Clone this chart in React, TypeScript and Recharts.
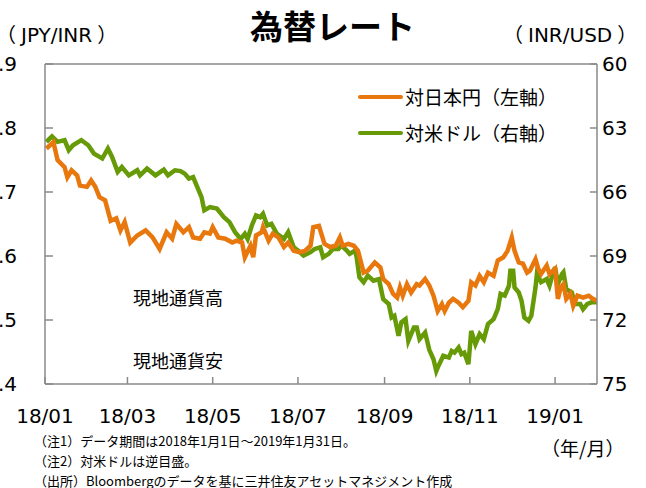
import { LineChart, Line, XAxis, YAxis, ReferenceLine } from 'recharts'

const ORANGE = '#E8780D'
const GREEN = '#669A06'
const AXIS = '#8a8a8a'
const FONT = '"Noto Sans CJK JP", "Noto Sans", sans-serif'
const LATIN = '"DejaVu Sans", "Noto Sans CJK JP", sans-serif'

// x values are days counted from 2018-01-01
const jpyDays = [
  1, 6, 9, 14, 16, 19, 23, 25, 30, 33, 36, 39, 43, 47, 51, 54, 57, 61, 66, 72,
  77, 82, 87, 91, 94, 99, 103, 106, 111, 114, 118, 120, 124, 129, 134, 137, 141, 143, 147, 149,
  151, 155, 156, 160, 163, 167, 171, 174, 178, 182, 186, 190, 192, 196, 200, 204, 208, 211, 213, 217,
  221, 224, 228, 231, 236, 240, 242, 246, 249, 252, 254, 256, 259, 262, 266, 268, 272, 275, 278, 281,
  284, 286, 289, 292, 296, 299, 303, 305, 308, 311, 314, 317, 321, 324, 328, 331, 334, 336, 339, 342,
  345, 347, 351, 353, 355, 359, 361, 365, 367, 369, 371, 373, 376, 378, 381, 385, 389, 392, 395
]
const jpyInr = [
  1.768, 1.778, 1.75, 1.739, 1.723, 1.734, 1.726, 1.71, 1.708, 1.718, 1.708, 1.692, 1.687, 1.655, 1.659, 1.64, 1.653, 1.621, 1.632, 1.64,
  1.629, 1.611, 1.637, 1.627, 1.65, 1.637, 1.645, 1.629, 1.627, 1.637, 1.635, 1.645, 1.629, 1.627, 1.621, 1.624, 1.621, 1.598, 1.616, 1.598,
  1.632, 1.637, 1.645, 1.624, 1.635, 1.629, 1.614, 1.621, 1.608, 1.606, 1.608, 1.616, 1.645, 1.647, 1.619, 1.614, 1.616, 1.629, 1.616, 1.619,
  1.616, 1.608, 1.574, 1.577, 1.59, 1.582, 1.564, 1.556, 1.541, 1.535, 1.551, 1.538, 1.556, 1.543, 1.556, 1.554, 1.564, 1.554, 1.538, 1.514,
  1.525, 1.514, 1.527, 1.533, 1.527, 1.52, 1.53, 1.559, 1.554, 1.569, 1.559, 1.574, 1.569, 1.593, 1.598, 1.608, 1.629, 1.608, 1.59, 1.588,
  1.574, 1.577, 1.595, 1.58, 1.572, 1.585, 1.572, 1.58, 1.533, 1.551, 1.556, 1.533, 1.541, 1.522, 1.538, 1.535, 1.538, 1.533, 1.53
]

const usdDays = [
  1, 5, 9, 14, 17, 20, 26, 31, 35, 41, 45, 48, 52, 55, 60, 66, 68, 73, 79, 85,
  88, 93, 97, 100, 103, 106, 109, 112, 114, 118, 123, 128, 132, 136, 140, 143, 145, 148, 151, 154,
  156, 159, 162, 166, 171, 174, 178, 181, 185, 190, 193, 197, 199, 203, 206, 210, 212, 216, 218, 222,
  223, 225, 228, 231, 235, 239, 242, 246, 248, 250, 253, 255, 258, 260, 264, 266, 268, 272, 275, 278,
  280, 281, 285, 289, 291, 293, 296, 298, 300, 303, 305, 308, 311, 314, 317, 321, 324, 326, 329, 332,
  333, 335, 336, 339, 341, 343, 346, 348, 351, 352, 355, 359, 361, 363, 365, 367, 370, 371, 373, 377,
  379, 383, 385, 388, 391, 395
]
const usdInr = [
  63.65, 63.39, 63.65, 63.57, 64.04, 63.81, 63.57, 63.81, 64.2, 64.43, 63.96, 64.36, 65.06, 64.83, 65.22, 64.98, 65.22, 64.9, 65.22, 64.95,
  65.22, 64.98, 65.02, 65.14, 65.37, 65.3, 65.77, 66.24, 66.86, 66.71, 66.78, 67.18, 67.41, 67.88, 68.2, 67.96, 68.2, 67.57, 67.1, 67.18,
  67.02, 67.57, 67.49, 67.96, 68.2, 67.88, 68.59, 68.74, 68.98, 68.82, 68.67, 68.59, 69.06, 68.9, 68.67, 68.67, 68.51, 68.74, 68.9, 68.74,
  69.06, 70.0, 70.23, 69.92, 70.16, 70.08, 71.02, 71.25, 71.88, 71.8, 72.74, 72.11, 71.96, 72.98, 72.35, 72.35, 72.9, 72.59, 73.4, 73.84,
  74.39, 74.23, 73.68, 73.76, 73.45, 73.53, 73.29, 73.6, 73.53, 74.07, 72.51, 73.13, 72.66, 72.9, 72.19, 71.96, 71.49, 70.78, 70.86, 70.39,
  69.69, 69.69, 70.47, 70.71, 71.1, 71.88, 72.04, 71.8, 70.47, 69.84, 70.23, 70.08, 70.39, 69.92, 69.53, 70.31, 69.84, 69.76, 70.55, 70.71,
  71.25, 71.25, 71.49, 71.25, 71.17, 71.17
]

const xTicks = [0, 59, 120, 181, 243, 304, 365]
const xTickLabels = ['18/01', '18/03', '18/05', '18/07', '18/09', '18/11', '19/01']
const leftTicks = [1.4, 1.5, 1.6, 1.7, 1.8, 1.9]
const rightTicks = [60, 63, 66, 69, 72, 75]

const legendItems = [
  { name: '対日本円（左軸）', color: ORANGE },
  { name: '対米ドル（右軸）', color: GREEN }
]

const notes = [
  '（注1）データ期間は2018年1月1日～2019年1月31日。',
  '（注2）対米ドルは逆目盛。',
  '（出所）Bloombergのデータを基に三井住友アセットマネジメント作成'
]

const jpyData = jpyDays.map((day, i) => ({ day, value: jpyInr[i] }))
const usdData = usdDays.map((day, i) => ({ day, value: usdInr[i] }))

const tickStyle = { fontSize: 20, fill: '#000', fontFamily: LATIN }

function Text({ left, top, size, children, bold, font }: { left: number; top: number; size: number; children: any; bold?: boolean; font?: string }) {
  return (
    <div style={{
      position: 'absolute', left, top, fontSize: size, lineHeight: 1, whiteSpace: 'nowrap',
      fontWeight: bold ? 700 : 400, fontFamily: font ?? FONT, color: '#000'
    }}>
      {children}
    </div>
  )
}

// unit label: brackets in the CJK face, letters in the Latin face
function Unit({ left, top, label }: { left: number; top: number; label: string }) {
  return (
    <Text left={left} top={top} size={20}>
      （<span style={{ fontFamily: LATIN, padding: '0 5px' }}>{label}</span>）
    </Text>
  )
}

export default function App() {
  return (
    <div style={{ position: 'absolute', left: 0, top: 0, width: 646, height: 488, overflow: 'hidden', background: '#fff' }}>
      <LineChart width={646} height={488} data={jpyData} margin={{ top: 64, right: 0, left: 0, bottom: 0 }}>
        <XAxis
          dataKey="day"
          type="number"
          domain={[0, 395]}
          ticks={xTicks}
          tickFormatter={(v: number) => xTickLabels[xTicks.indexOf(v)] ?? ''}
          height={104}
          allowDataOverflow
          stroke={AXIS}
          strokeWidth={1.5}
          tickSize={-7}
          tickMargin={32}
          tick={tickStyle}
        />
        <YAxis
          yAxisId="left"
          domain={[1.4, 1.9]}
          ticks={leftTicks}
          tickFormatter={(v: number) => v.toFixed(1)}
          width={45}
          stroke={AXIS}
          strokeWidth={1.5}
          tickSize={-8}
          tickMargin={36}
          tick={tickStyle}
        />
        <YAxis
          yAxisId="right"
          orientation="right"
          domain={[60, 75]}
          reversed
          ticks={rightTicks}
          width={49}
          stroke={AXIS}
          strokeWidth={1.5}
          tickSize={-7}
          tickMargin={12}
          tick={tickStyle}
        />
        <ReferenceLine yAxisId="left" y={1.9} stroke={AXIS} strokeWidth={1.5} />
        <Line
          yAxisId="right"
          data={usdData}
          dataKey="value"
          type="linear"
          stroke={GREEN}
          strokeWidth={4.5}
          dot={false}
          isAnimationActive={false}
        />
        <Line
          yAxisId="left"
          data={jpyData}
          dataKey="value"
          type="linear"
          stroke={ORANGE}
          strokeWidth={4.5}
          dot={false}
          isAnimationActive={false}
        />
      </LineChart>

      <Text left={250} top={9} size={33} bold>為替レート</Text>
      <Unit left={-4} top={24} label="JPY/INR" />
      <Unit left={503} top={24} label="INR/USD" />

      {legendItems.map((item, i) => (
        <div key={item.name} style={{ position: 'absolute', left: 358, top: 86 + i * 36, display: 'flex', alignItems: 'center' }}>
          <div style={{ width: 45, height: 4, background: item.color, borderRadius: 2 }} />
          <span style={{ fontSize: 19, lineHeight: '22px', fontFamily: FONT, marginLeft: 2 }}>{item.name}</span>
        </div>
      ))}

      <Text left={133} top={288} size={18}>現地通貨高</Text>
      <Text left={133} top={351} size={18}>現地通貨安</Text>

      {notes.map((note, i) => (
        <Text key={note} left={34} top={434 + i * 20} size={13}>{note}</Text>
      ))}
      <Text left={541} top={438} size={19}>（年/月）</Text>
    </div>
  )
}
